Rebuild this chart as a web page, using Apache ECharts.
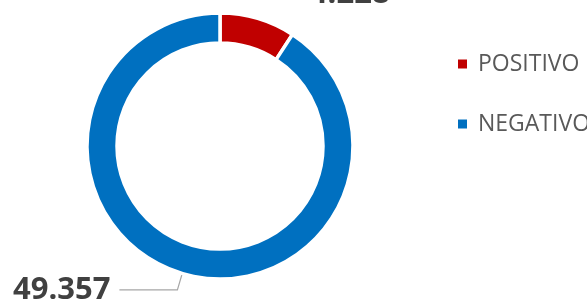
<!DOCTYPE html>
<html>
<head>
<meta charset="utf-8">
<script src="https://cdn.jsdelivr.net/npm/echarts@6/dist/echarts.min.js"></script>
<style>
  html, body { margin: 0; padding: 0; background: #fff; }
  #chart { width: 587px; height: 305px; }
</style>
</head>
<body>
<div id="chart"></div>
<script>
// values
const categories = ['POSITIVO', 'NEGATIVO']
const values = [4228, 49357]
const colors = ['#C00000', '#0070C0']

const fmt = (v) => v.toLocaleString('de-DE')

// label line per slice
const lineLen = [
  { show: false, length: 25, length2: 36 },
  { show: true, length: 17, length2: 58 },
]

const chart = echarts.init(document.getElementById('chart'))

chart.setOption({
  animation: false,
  color: colors,
  legend: {
    orient: 'vertical',
    left: 451,
    top: 47,
    itemGap: 36,
    itemWidth: 11,
    itemHeight: 11,
    icon: 'rect',
    textStyle: {
      fontFamily: 'Open Sans',
      fontSize: 23,
      lineHeight: 24,
      color: '#595959',
      padding: [0, 0, 0, 5],
    },
    data: categories,
  },
  series: [
    {
      type: 'pie',
      center: [220, 146],
      radius: [103, 133],
      startAngle: 90,
      clockwise: true,
      minAngle: 33,
      itemStyle: {
        borderColor: '#fff',
        borderWidth: 3.5,
      },
      label: {
        show: true,
        formatter: (p) => fmt(p.value),
        fontFamily: 'Open Sans',
        fontWeight: 'bold',
        fontSize: 31,
        color: '#404040',
        distanceToLabelLine: 9,
      },
      labelLine: {
        show: true,
        lineStyle: { color: '#A6A6A6', width: 1.2 },
      },
      data: categories.map((name, i) => ({
        name,
        value: values[i],
        labelLine: lineLen[i],
      })),
    },
  ],
})
</script>
</body>
</html>
